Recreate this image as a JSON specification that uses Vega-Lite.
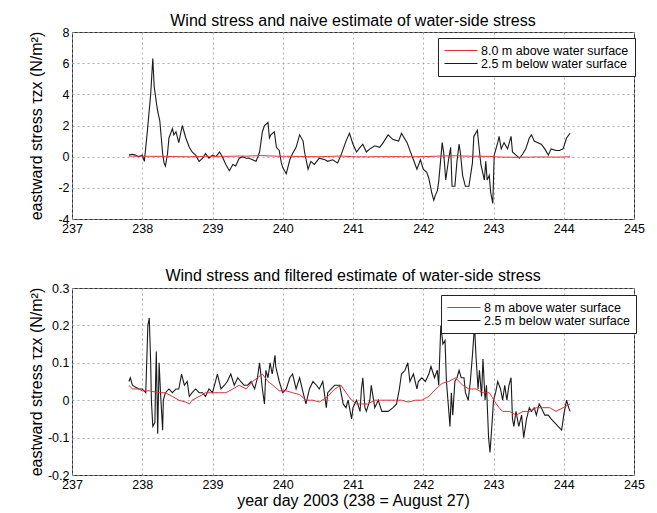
{
  "$schema": "https://vega.github.io/schema/vega-lite/v6.json",
  "background": "white",
  "padding": {"left": 27, "top": 12, "right": 20, "bottom": 6},
  "spacing": 69,
  "bounds": "flush",
  "config": {
    "font": "Liberation Sans",
    "locale": {"number": {"decimal": ".", "thousands": ",", "grouping": [3], "currency": ["$", ""], "minus": "-"}},
    "view": {"stroke": "#333", "strokeWidth": 1},
    "axis": {"labelFont": "Liberation Sans", "labelFontSize": 12.5, "labelColor": "#000", "ticks": false, "domain": false, "grid": true, "gridDash": [2, 3], "gridColor": "#999", "gridWidth": 0.8, "titleFont": "Liberation Sans", "titleFontSize": 16, "titleFontWeight": "normal", "titleColor": "#000", "labelPadding": 3, "labelOverlap": false, "labelFlush": false},
    "title": {"font": "Liberation Sans", "fontSize": 16, "fontWeight": "normal", "color": "#000"},
    "legend": {"labelFont": "Liberation Sans", "labelFontSize": 12.5, "labelColor": "#000", "fillColor": "white", "strokeColor": "#222", "padding": 6, "symbolType": "stroke", "symbolSize": 1089, "symbolStrokeWidth": 1, "labelOffset": 3, "rowPadding": 0, "clipHeight": 13, "labelLimit": 300}
  },
  "datasets": {
    "wind": [
      {"day": 237.81, "stress": 0.04}, {"day": 237.86, "stress": 0.03}, {"day": 237.95, "stress": 0.03}, {"day": 238.0, "stress": 0.025},
      {"day": 238.1, "stress": 0.025}, {"day": 238.24, "stress": 0.02}, {"day": 238.33, "stress": 0.02}, {"day": 238.43, "stress": 0.01},
      {"day": 238.52, "stress": 0.0}, {"day": 238.62, "stress": -0.005}, {"day": 238.67, "stress": -0.01}, {"day": 238.71, "stress": 0.0},
      {"day": 238.81, "stress": 0.01}, {"day": 238.9, "stress": 0.02}, {"day": 239.0, "stress": 0.02}, {"day": 239.1, "stress": 0.02},
      {"day": 239.19, "stress": 0.02}, {"day": 239.29, "stress": 0.03}, {"day": 239.38, "stress": 0.04}, {"day": 239.48, "stress": 0.03},
      {"day": 239.57, "stress": 0.05}, {"day": 239.64, "stress": 0.06}, {"day": 239.71, "stress": 0.07}, {"day": 239.79, "stress": 0.05},
      {"day": 239.86, "stress": 0.04}, {"day": 239.95, "stress": 0.025}, {"day": 240.05, "stress": 0.025}, {"day": 240.14, "stress": 0.02},
      {"day": 240.24, "stress": 0.015}, {"day": 240.33, "stress": 0.0}, {"day": 240.43, "stress": 0.0}, {"day": 240.52, "stress": -0.005},
      {"day": 240.64, "stress": 0.01}, {"day": 240.74, "stress": 0.03}, {"day": 240.83, "stress": 0.04}, {"day": 240.9, "stress": 0.02},
      {"day": 240.98, "stress": 0.0}, {"day": 241.05, "stress": -0.01}, {"day": 241.12, "stress": -0.01}, {"day": 241.21, "stress": -0.01},
      {"day": 241.31, "stress": 0.0}, {"day": 241.41, "stress": 0.0}, {"day": 241.5, "stress": 0.0}, {"day": 241.6, "stress": 0.0},
      {"day": 241.69, "stress": 0.0}, {"day": 241.79, "stress": -0.005}, {"day": 241.89, "stress": 0.0}, {"day": 241.98, "stress": 0.0},
      {"day": 242.08, "stress": 0.01}, {"day": 242.18, "stress": 0.03}, {"day": 242.27, "stress": 0.045}, {"day": 242.36, "stress": 0.05},
      {"day": 242.46, "stress": 0.06}, {"day": 242.56, "stress": 0.04}, {"day": 242.65, "stress": 0.03}, {"day": 242.75, "stress": 0.03},
      {"day": 242.85, "stress": 0.02}, {"day": 242.94, "stress": 0.02}, {"day": 243.04, "stress": -0.01}, {"day": 243.08, "stress": -0.02},
      {"day": 243.13, "stress": -0.03}, {"day": 243.23, "stress": -0.03}, {"day": 243.32, "stress": -0.04}, {"day": 243.42, "stress": -0.03},
      {"day": 243.51, "stress": -0.03}, {"day": 243.61, "stress": -0.02}, {"day": 243.7, "stress": -0.02}, {"day": 243.8, "stress": -0.02},
      {"day": 243.89, "stress": -0.03}, {"day": 243.99, "stress": -0.02}, {"day": 244.09, "stress": -0.01}
    ],
    "naive": [
      {"day": 237.81, "stress": 0.1}, {"day": 237.86, "stress": 0.15}, {"day": 237.9, "stress": 0.1}, {"day": 237.95, "stress": 0.0},
      {"day": 238.0, "stress": 0.1}, {"day": 238.03, "stress": -0.3}, {"day": 238.07, "stress": 1.5}, {"day": 238.1, "stress": 3.0},
      {"day": 238.12, "stress": 4.0}, {"day": 238.15, "stress": 6.3}, {"day": 238.17, "stress": 4.5}, {"day": 238.2, "stress": 3.5},
      {"day": 238.22, "stress": 2.9}, {"day": 238.25, "stress": 2.3}, {"day": 238.29, "stress": 0.2}, {"day": 238.31, "stress": -0.4},
      {"day": 238.33, "stress": -0.6}, {"day": 238.36, "stress": 0.2}, {"day": 238.38, "stress": 1.2}, {"day": 238.43, "stress": 1.8},
      {"day": 238.45, "stress": 1.4}, {"day": 238.48, "stress": 1.6}, {"day": 238.52, "stress": 0.9}, {"day": 238.57, "stress": 2.0},
      {"day": 238.62, "stress": 1.2}, {"day": 238.67, "stress": 0.6}, {"day": 238.71, "stress": 0.3}, {"day": 238.76, "stress": 0.1},
      {"day": 238.81, "stress": -0.3}, {"day": 238.86, "stress": -0.1}, {"day": 238.9, "stress": 0.2}, {"day": 238.95, "stress": -0.1},
      {"day": 239.0, "stress": 0.1}, {"day": 239.05, "stress": 0.0}, {"day": 239.1, "stress": 0.3}, {"day": 239.14, "stress": 0.0},
      {"day": 239.19, "stress": -0.5}, {"day": 239.24, "stress": -0.9}, {"day": 239.29, "stress": -0.5}, {"day": 239.33, "stress": -0.6},
      {"day": 239.38, "stress": -0.1}, {"day": 239.43, "stress": 0.0}, {"day": 239.48, "stress": -0.1}, {"day": 239.52, "stress": -0.1},
      {"day": 239.57, "stress": -0.2}, {"day": 239.62, "stress": -0.3}, {"day": 239.67, "stress": 0.3}, {"day": 239.71, "stress": 1.6},
      {"day": 239.74, "stress": 2.0}, {"day": 239.79, "stress": 2.2}, {"day": 239.81, "stress": 1.2}, {"day": 239.83, "stress": 1.4},
      {"day": 239.88, "stress": 1.6}, {"day": 239.91, "stress": 0.6}, {"day": 239.95, "stress": 0.4}, {"day": 239.98, "stress": -0.4},
      {"day": 240.0, "stress": -0.7}, {"day": 240.05, "stress": -1.1}, {"day": 240.1, "stress": -0.2}, {"day": 240.14, "stress": 0.2},
      {"day": 240.19, "stress": 0.6}, {"day": 240.24, "stress": 1.4}, {"day": 240.29, "stress": 1.0}, {"day": 240.31, "stress": 0.3},
      {"day": 240.36, "stress": -0.8}, {"day": 240.4, "stress": -0.3}, {"day": 240.45, "stress": -0.5}, {"day": 240.52, "stress": -0.1},
      {"day": 240.6, "stress": -0.2}, {"day": 240.64, "stress": -0.3}, {"day": 240.71, "stress": -0.2}, {"day": 240.78, "stress": -0.4},
      {"day": 240.83, "stress": 0.1}, {"day": 240.9, "stress": 1.0}, {"day": 240.95, "stress": 1.5}, {"day": 241.0, "stress": 0.8},
      {"day": 241.05, "stress": 0.3}, {"day": 241.1, "stress": 0.6}, {"day": 241.14, "stress": 0.8}, {"day": 241.19, "stress": 0.3},
      {"day": 241.24, "stress": 0.5}, {"day": 241.31, "stress": 0.7}, {"day": 241.38, "stress": 0.6}, {"day": 241.43, "stress": 0.9},
      {"day": 241.5, "stress": 1.4}, {"day": 241.57, "stress": 1.1}, {"day": 241.65, "stress": 1.0}, {"day": 241.69, "stress": 1.5},
      {"day": 241.77, "stress": 0.9}, {"day": 241.81, "stress": 0.4}, {"day": 241.86, "stress": -0.2}, {"day": 241.91, "stress": -0.8},
      {"day": 241.96, "stress": -0.2}, {"day": 242.0, "stress": -0.8}, {"day": 242.05, "stress": -1.0}, {"day": 242.08, "stress": -1.4},
      {"day": 242.12, "stress": -2.3}, {"day": 242.15, "stress": -2.8}, {"day": 242.17, "stress": -2.5}, {"day": 242.2, "stress": -2.2},
      {"day": 242.22, "stress": -1.6}, {"day": 242.27, "stress": 0.9}, {"day": 242.29, "stress": 0.3}, {"day": 242.32, "stress": -1.5},
      {"day": 242.36, "stress": -0.2}, {"day": 242.39, "stress": 0.6}, {"day": 242.41, "stress": -1.9}, {"day": 242.45, "stress": -1.9},
      {"day": 242.48, "stress": -0.3}, {"day": 242.51, "stress": 0.8}, {"day": 242.53, "stress": 0.2}, {"day": 242.56, "stress": -1.2},
      {"day": 242.6, "stress": -1.9}, {"day": 242.65, "stress": -1.9}, {"day": 242.7, "stress": -0.4}, {"day": 242.72, "stress": 1.3},
      {"day": 242.77, "stress": 1.7}, {"day": 242.79, "stress": 0.8}, {"day": 242.82, "stress": -0.5}, {"day": 242.87, "stress": -1.5},
      {"day": 242.89, "stress": -0.3}, {"day": 242.91, "stress": -1.5}, {"day": 242.94, "stress": -1.2}, {"day": 242.96, "stress": -2.3},
      {"day": 242.99, "stress": -3.0}, {"day": 243.01, "stress": 0.1}, {"day": 243.06, "stress": 0.9}, {"day": 243.08, "stress": 1.3},
      {"day": 243.11, "stress": 0.5}, {"day": 243.15, "stress": 0.9}, {"day": 243.2, "stress": 0.5}, {"day": 243.25, "stress": 1.3},
      {"day": 243.27, "stress": 0.3}, {"day": 243.32, "stress": 0.1}, {"day": 243.37, "stress": -0.1}, {"day": 243.42, "stress": 0.2},
      {"day": 243.46, "stress": 0.5}, {"day": 243.51, "stress": 1.2}, {"day": 243.54, "stress": 1.4}, {"day": 243.58, "stress": 1.0},
      {"day": 243.63, "stress": 0.9}, {"day": 243.68, "stress": 0.8}, {"day": 243.73, "stress": 0.5}, {"day": 243.78, "stress": 0.1},
      {"day": 243.82, "stress": 0.5}, {"day": 243.89, "stress": 0.4}, {"day": 243.94, "stress": 0.4}, {"day": 243.99, "stress": 0.5},
      {"day": 244.04, "stress": 1.2}, {"day": 244.09, "stress": 1.5}
    ],
    "filtered": [
      {"day": 237.81, "stress": 0.05}, {"day": 237.83, "stress": 0.06}, {"day": 237.86, "stress": 0.04}, {"day": 237.9, "stress": 0.035},
      {"day": 237.95, "stress": 0.03}, {"day": 238.0, "stress": 0.03}, {"day": 238.05, "stress": 0.02}, {"day": 238.08, "stress": 0.2},
      {"day": 238.1, "stress": 0.22}, {"day": 238.12, "stress": 0.1}, {"day": 238.13, "stress": 0.0}, {"day": 238.15, "stress": -0.07},
      {"day": 238.18, "stress": -0.06}, {"day": 238.19, "stress": 0.05}, {"day": 238.2, "stress": 0.13}, {"day": 238.22, "stress": -0.09},
      {"day": 238.24, "stress": 0.1}, {"day": 238.26, "stress": 0.02}, {"day": 238.29, "stress": -0.08}, {"day": 238.3, "stress": 0.0},
      {"day": 238.33, "stress": 0.02}, {"day": 238.38, "stress": 0.03}, {"day": 238.43, "stress": 0.02}, {"day": 238.48, "stress": 0.03},
      {"day": 238.52, "stress": 0.03}, {"day": 238.56, "stress": 0.07}, {"day": 238.6, "stress": 0.04}, {"day": 238.64, "stress": 0.05},
      {"day": 238.67, "stress": 0.01}, {"day": 238.71, "stress": 0.02}, {"day": 238.76, "stress": 0.03}, {"day": 238.81, "stress": 0.02},
      {"day": 238.86, "stress": 0.02}, {"day": 238.9, "stress": 0.01}, {"day": 238.95, "stress": 0.03}, {"day": 239.0, "stress": 0.02},
      {"day": 239.07, "stress": 0.07}, {"day": 239.12, "stress": 0.03}, {"day": 239.17, "stress": 0.04}, {"day": 239.21, "stress": 0.05},
      {"day": 239.26, "stress": 0.07}, {"day": 239.31, "stress": 0.04}, {"day": 239.36, "stress": 0.06}, {"day": 239.4, "stress": 0.05},
      {"day": 239.45, "stress": 0.04}, {"day": 239.5, "stress": 0.04}, {"day": 239.55, "stress": 0.05}, {"day": 239.6, "stress": 0.03},
      {"day": 239.64, "stress": 0.06}, {"day": 239.67, "stress": 0.1}, {"day": 239.71, "stress": 0.03}, {"day": 239.74, "stress": -0.01},
      {"day": 239.76, "stress": 0.08}, {"day": 239.79, "stress": 0.06}, {"day": 239.82, "stress": 0.1}, {"day": 239.85, "stress": 0.07},
      {"day": 239.89, "stress": 0.12}, {"day": 239.9, "stress": 0.09}, {"day": 239.95, "stress": 0.05}, {"day": 240.0, "stress": 0.02},
      {"day": 240.05, "stress": 0.03}, {"day": 240.1, "stress": 0.06}, {"day": 240.14, "stress": 0.07}, {"day": 240.19, "stress": 0.03},
      {"day": 240.24, "stress": 0.06}, {"day": 240.29, "stress": 0.02}, {"day": 240.33, "stress": -0.01}, {"day": 240.38, "stress": 0.03},
      {"day": 240.43, "stress": 0.05}, {"day": 240.48, "stress": 0.04}, {"day": 240.52, "stress": 0.03}, {"day": 240.57, "stress": 0.05},
      {"day": 240.62, "stress": -0.02}, {"day": 240.64, "stress": 0.02}, {"day": 240.69, "stress": 0.03}, {"day": 240.74, "stress": 0.04},
      {"day": 240.81, "stress": 0.04}, {"day": 240.86, "stress": -0.01}, {"day": 240.9, "stress": -0.02}, {"day": 240.93, "stress": 0.0},
      {"day": 240.98, "stress": -0.05}, {"day": 241.0, "stress": -0.02}, {"day": 241.05, "stress": 0.0}, {"day": 241.1, "stress": -0.03},
      {"day": 241.12, "stress": 0.03}, {"day": 241.14, "stress": 0.06}, {"day": 241.17, "stress": -0.02}, {"day": 241.19, "stress": -0.03},
      {"day": 241.24, "stress": 0.0}, {"day": 241.26, "stress": 0.04}, {"day": 241.31, "stress": -0.02}, {"day": 241.36, "stress": 0.0},
      {"day": 241.41, "stress": -0.03}, {"day": 241.45, "stress": -0.03}, {"day": 241.5, "stress": -0.03}, {"day": 241.57, "stress": -0.02},
      {"day": 241.62, "stress": -0.01}, {"day": 241.66, "stress": 0.03}, {"day": 241.69, "stress": 0.07}, {"day": 241.74, "stress": 0.08},
      {"day": 241.78, "stress": 0.1}, {"day": 241.81, "stress": 0.05}, {"day": 241.86, "stress": 0.07}, {"day": 241.91, "stress": 0.03},
      {"day": 241.93, "stress": 0.05}, {"day": 241.98, "stress": 0.06}, {"day": 242.03, "stress": 0.05}, {"day": 242.08, "stress": 0.07},
      {"day": 242.11, "stress": 0.09}, {"day": 242.16, "stress": 0.06}, {"day": 242.2, "stress": 0.08}, {"day": 242.22, "stress": 0.04},
      {"day": 242.25, "stress": 0.2}, {"day": 242.28, "stress": 0.15}, {"day": 242.31, "stress": 0.16}, {"day": 242.33, "stress": 0.05},
      {"day": 242.36, "stress": -0.02}, {"day": 242.38, "stress": -0.07}, {"day": 242.4, "stress": 0.02}, {"day": 242.42, "stress": -0.04},
      {"day": 242.45, "stress": 0.05}, {"day": 242.48, "stress": 0.06}, {"day": 242.51, "stress": 0.08}, {"day": 242.54, "stress": 0.06},
      {"day": 242.58, "stress": 0.06}, {"day": 242.6, "stress": 0.02}, {"day": 242.64, "stress": 0.0}, {"day": 242.67, "stress": 0.05},
      {"day": 242.7, "stress": 0.12}, {"day": 242.73, "stress": 0.2}, {"day": 242.75, "stress": 0.12}, {"day": 242.78, "stress": 0.03},
      {"day": 242.8, "stress": 0.08}, {"day": 242.83, "stress": 0.01}, {"day": 242.85, "stress": 0.11}, {"day": 242.88, "stress": 0.0},
      {"day": 242.9, "stress": 0.04}, {"day": 242.93, "stress": -0.1}, {"day": 242.95, "stress": -0.14}, {"day": 242.98, "stress": -0.06},
      {"day": 243.0, "stress": 0.0}, {"day": 243.03, "stress": 0.02}, {"day": 243.06, "stress": 0.05}, {"day": 243.1, "stress": 0.03},
      {"day": 243.13, "stress": 0.0}, {"day": 243.16, "stress": 0.04}, {"day": 243.19, "stress": 0.0}, {"day": 243.22, "stress": 0.04},
      {"day": 243.25, "stress": 0.06}, {"day": 243.27, "stress": -0.05}, {"day": 243.29, "stress": -0.07}, {"day": 243.32, "stress": -0.03},
      {"day": 243.36, "stress": -0.07}, {"day": 243.4, "stress": -0.04}, {"day": 243.43, "stress": -0.1}, {"day": 243.47, "stress": -0.05},
      {"day": 243.51, "stress": -0.02}, {"day": 243.54, "stress": -0.03}, {"day": 243.58, "stress": -0.02}, {"day": 243.61, "stress": -0.04},
      {"day": 243.65, "stress": -0.01}, {"day": 243.68, "stress": -0.02}, {"day": 243.73, "stress": -0.04}, {"day": 243.78, "stress": -0.04},
      {"day": 243.82, "stress": -0.05}, {"day": 243.87, "stress": -0.06}, {"day": 243.92, "stress": -0.07}, {"day": 243.97, "stress": -0.08},
      {"day": 244.0, "stress": -0.04}, {"day": 244.04, "stress": 0.0}, {"day": 244.07, "stress": -0.02}, {"day": 244.09, "stress": -0.03}
    ]
  },
  "vconcat": [
    {
      "width": 562,
      "height": 187,
      "title": {"text": "Wind stress and naive estimate of water-side stress", "anchor": "middle", "offset": -3},
      "layer": [
        {
          "data": {"name": "naive"},
          "mark": {"type": "line", "strokeWidth": 1.1},
          "encoding": {
            "x": {"field": "day", "type": "quantitative", "scale": {"domain": [237, 245], "nice": false, "zero": false}, "axis": {"tickCount": 8, "title": null, "format": "d", "labelOverlap": false}},
            "y": {"field": "stress", "type": "quantitative", "scale": {"domain": [-4, 8], "nice": false, "zero": false}, "axis": {"tickCount": 6, "format": "d", "labelOverlap": false, "title": "eastward stress \u03c4zx (N/m\u00b2)", "titleX": -36, "titleY": 93.5, "titleAngle": -90, "titleBaseline": "middle", "titleAlign": "center"}},
            "color": {"datum": "2.5 m below water surface", "type": "nominal", "scale": {"domain": ["8.0 m above water surface", "2.5 m below water surface"], "range": ["#e0303a", "#1a1a1a"]}, "legend": {"title": null, "orient": "none", "legendX": 366, "legendY": 6}}
          }
        },
        {
          "data": {"name": "wind"},
          "mark": {"type": "line", "strokeWidth": 1},
          "encoding": {
            "x": {"field": "day", "type": "quantitative"},
            "y": {"field": "stress", "type": "quantitative"},
            "color": {"datum": "8.0 m above water surface", "type": "nominal"}
          }
        }
      ]
    },
    {
      "width": 562,
      "height": 187,
      "title": {"text": "Wind stress and filtered estimate of water-side stress", "anchor": "middle", "offset": -2},
      "layer": [
        {
          "data": {"name": "filtered"},
          "mark": {"type": "line", "strokeWidth": 1.1},
          "encoding": {
            "x": {"field": "day", "type": "quantitative", "scale": {"domain": [237, 245], "nice": false, "zero": false}, "axis": {"tickCount": 8, "title": "year day 2003 (238 = August 27)", "format": "d", "titlePadding": 2, "labelOverlap": false}},
            "y": {"field": "stress", "type": "quantitative", "scale": {"domain": [-0.2, 0.3], "nice": false, "zero": false}, "axis": {"tickCount": 5, "format": ".1~f", "labelOverlap": false, "title": "eastward stress \u03c4zx (N/m\u00b2)", "titleX": -36, "titleY": 93.5, "titleAngle": -90, "titleBaseline": "middle", "titleAlign": "center"}},
            "color": {"datum": "2.5 m below water surface", "type": "nominal", "scale": {"domain": ["8 m above water surface", "2.5 m below water surface"], "range": ["#e0303a", "#1a1a1a"]}, "legend": {"title": null, "orient": "none", "legendX": 369, "legendY": 7}}
          }
        },
        {
          "data": {"name": "wind"},
          "mark": {"type": "line", "strokeWidth": 1},
          "encoding": {
            "x": {"field": "day", "type": "quantitative"},
            "y": {"field": "stress", "type": "quantitative"},
            "color": {"datum": "8 m above water surface", "type": "nominal"}
          }
        }
      ]
    }
  ],
  "resolve": {"scale": {"color": "independent", "x": "independent", "y": "independent"}, "legend": {"color": "independent"}}
}
